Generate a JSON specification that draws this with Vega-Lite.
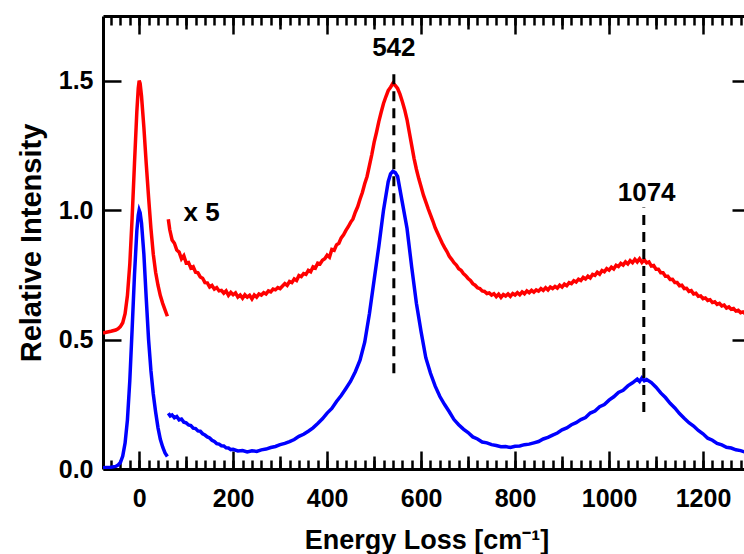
{
  "$schema": "https://vega.github.io/schema/vega-lite/v6.json",
  "width": 647,
  "height": 453,
  "autosize": {"type": "none"},
  "padding": {"left": 103, "top": 16, "right": 0, "bottom": 85},
  "background": "white",
  "config": {
    "view": {"stroke": null},
    "font": "Liberation Sans",
    "axis": {
      "grid": false,
      "domainColor": "black",
      "domainWidth": 3,
      "tickColor": "black",
      "tickWidth": 2.5,
      "labelFont": "Liberation Sans",
      "labelFontWeight": "bold",
      "labelFontSize": 25,
      "labelColor": "black",
      "titleFont": "Liberation Sans",
      "titleFontWeight": "bold",
      "titleFontSize": 27,
      "titleColor": "black",
      "labelFlush": false
    }
  },
  "resolve": {"axis": {"x": "independent", "y": "independent"}},
  "datasets": {
    "peaks": [
      {"x": 542, "y1": 0.37, "y2": 1.53},
      {"x": 1074, "y1": 0.22, "y2": 1.01}
    ],
    "notes": [
      {"x": 542, "y": 1.627, "t": "542"},
      {"x": 1080, "y": 1.068, "t": "1074"},
      {"x": 133, "y": 0.99, "t": "x 5"}
    ],
    "lines": [
      {"s": "b0", "x": -77, "y": 0.005}, {"s": "b0", "x": -70, "y": 0.006}, {"s": "b0", "x": -60, "y": 0.007}, {"s": "b0", "x": -50, "y": 0.01}, {"s": "b0", "x": -45, "y": 0.015}, {"s": "b0", "x": -40, "y": 0.025}, {"s": "b0", "x": -35, "y": 0.05}, {"s": "b0", "x": -30, "y": 0.1}, {"s": "b0", "x": -25, "y": 0.19}, {"s": "b0", "x": -20, "y": 0.34}, {"s": "b0", "x": -15, "y": 0.54}, {"s": "b0", "x": -10, "y": 0.75}, {"s": "b0", "x": -5, "y": 0.92}, {"s": "b0", "x": -2, "y": 0.98}, {"s": "b0", "x": 0, "y": 1.0}, {"s": "b0", "x": 2, "y": 0.99}, {"s": "b0", "x": 5, "y": 0.95}, {"s": "b0", "x": 10, "y": 0.83}, {"s": "b0", "x": 15, "y": 0.66}, {"s": "b0", "x": 20, "y": 0.5}, {"s": "b0", "x": 25, "y": 0.38}, {"s": "b0", "x": 30, "y": 0.29}, {"s": "b0", "x": 35, "y": 0.22}, {"s": "b0", "x": 40, "y": 0.16}, {"s": "b0", "x": 45, "y": 0.115}, {"s": "b0", "x": 50, "y": 0.085}, {"s": "b0", "x": 55, "y": 0.062}, {"s": "b0", "x": 60, "y": 0.048},
      {"s": "b1", "x": 62, "y": 0.215}, {"s": "b1", "x": 66, "y": 0.205}, {"s": "b1", "x": 70, "y": 0.209}, {"s": "b1", "x": 75, "y": 0.198}, {"s": "b1", "x": 80, "y": 0.203}, {"s": "b1", "x": 85, "y": 0.19}, {"s": "b1", "x": 90, "y": 0.193}, {"s": "b1", "x": 95, "y": 0.181}, {"s": "b1", "x": 100, "y": 0.178}, {"s": "b1", "x": 105, "y": 0.17}, {"s": "b1", "x": 110, "y": 0.168}, {"s": "b1", "x": 115, "y": 0.158}, {"s": "b1", "x": 120, "y": 0.156}, {"s": "b1", "x": 125, "y": 0.147}, {"s": "b1", "x": 130, "y": 0.146}, {"s": "b1", "x": 135, "y": 0.136}, {"s": "b1", "x": 140, "y": 0.131}, {"s": "b1", "x": 145, "y": 0.124}, {"s": "b1", "x": 150, "y": 0.12}, {"s": "b1", "x": 155, "y": 0.111}, {"s": "b1", "x": 160, "y": 0.106}, {"s": "b1", "x": 165, "y": 0.098}, {"s": "b1", "x": 170, "y": 0.096}, {"s": "b1", "x": 175, "y": 0.09}, {"s": "b1", "x": 180, "y": 0.089}, {"s": "b1", "x": 185, "y": 0.082}, {"s": "b1", "x": 190, "y": 0.081}, {"s": "b1", "x": 195, "y": 0.075}, {"s": "b1", "x": 200, "y": 0.076}, {"s": "b1", "x": 210, "y": 0.07}, {"s": "b1", "x": 220, "y": 0.071}, {"s": "b1", "x": 230, "y": 0.066}, {"s": "b1", "x": 240, "y": 0.07}, {"s": "b1", "x": 250, "y": 0.068}, {"s": "b1", "x": 260, "y": 0.074}, {"s": "b1", "x": 270, "y": 0.077}, {"s": "b1", "x": 280, "y": 0.083}, {"s": "b1", "x": 290, "y": 0.087}, {"s": "b1", "x": 300, "y": 0.094}, {"s": "b1", "x": 310, "y": 0.099}, {"s": "b1", "x": 320, "y": 0.106}, {"s": "b1", "x": 330, "y": 0.114}, {"s": "b1", "x": 340, "y": 0.126}, {"s": "b1", "x": 350, "y": 0.134}, {"s": "b1", "x": 360, "y": 0.146}, {"s": "b1", "x": 370, "y": 0.159}, {"s": "b1", "x": 380, "y": 0.176}, {"s": "b1", "x": 390, "y": 0.194}, {"s": "b1", "x": 400, "y": 0.216}, {"s": "b1", "x": 410, "y": 0.234}, {"s": "b1", "x": 420, "y": 0.261}, {"s": "b1", "x": 430, "y": 0.284}, {"s": "b1", "x": 440, "y": 0.311}, {"s": "b1", "x": 450, "y": 0.339}, {"s": "b1", "x": 460, "y": 0.376}, {"s": "b1", "x": 470, "y": 0.42}, {"s": "b1", "x": 480, "y": 0.49}, {"s": "b1", "x": 490, "y": 0.6}, {"s": "b1", "x": 500, "y": 0.73}, {"s": "b1", "x": 510, "y": 0.86}, {"s": "b1", "x": 520, "y": 1.0}, {"s": "b1", "x": 530, "y": 1.11}, {"s": "b1", "x": 535, "y": 1.14}, {"s": "b1", "x": 540, "y": 1.15}, {"s": "b1", "x": 545, "y": 1.145}, {"s": "b1", "x": 550, "y": 1.13}, {"s": "b1", "x": 560, "y": 1.03}, {"s": "b1", "x": 570, "y": 0.93}, {"s": "b1", "x": 580, "y": 0.78}, {"s": "b1", "x": 590, "y": 0.64}, {"s": "b1", "x": 600, "y": 0.53}, {"s": "b1", "x": 610, "y": 0.43}, {"s": "b1", "x": 620, "y": 0.37}, {"s": "b1", "x": 630, "y": 0.32}, {"s": "b1", "x": 640, "y": 0.28}, {"s": "b1", "x": 650, "y": 0.249}, {"s": "b1", "x": 660, "y": 0.221}, {"s": "b1", "x": 670, "y": 0.191}, {"s": "b1", "x": 680, "y": 0.171}, {"s": "b1", "x": 690, "y": 0.154}, {"s": "b1", "x": 700, "y": 0.141}, {"s": "b1", "x": 710, "y": 0.124}, {"s": "b1", "x": 720, "y": 0.116}, {"s": "b1", "x": 730, "y": 0.104}, {"s": "b1", "x": 740, "y": 0.101}, {"s": "b1", "x": 750, "y": 0.094}, {"s": "b1", "x": 760, "y": 0.091}, {"s": "b1", "x": 770, "y": 0.086}, {"s": "b1", "x": 780, "y": 0.087}, {"s": "b1", "x": 790, "y": 0.083}, {"s": "b1", "x": 800, "y": 0.088}, {"s": "b1", "x": 810, "y": 0.089}, {"s": "b1", "x": 820, "y": 0.094}, {"s": "b1", "x": 830, "y": 0.096}, {"s": "b1", "x": 840, "y": 0.101}, {"s": "b1", "x": 850, "y": 0.106}, {"s": "b1", "x": 860, "y": 0.116}, {"s": "b1", "x": 870, "y": 0.122}, {"s": "b1", "x": 880, "y": 0.131}, {"s": "b1", "x": 890, "y": 0.139}, {"s": "b1", "x": 900, "y": 0.151}, {"s": "b1", "x": 910, "y": 0.159}, {"s": "b1", "x": 920, "y": 0.171}, {"s": "b1", "x": 930, "y": 0.179}, {"s": "b1", "x": 940, "y": 0.191}, {"s": "b1", "x": 950, "y": 0.199}, {"s": "b1", "x": 960, "y": 0.216}, {"s": "b1", "x": 970, "y": 0.224}, {"s": "b1", "x": 980, "y": 0.241}, {"s": "b1", "x": 990, "y": 0.249}, {"s": "b1", "x": 1000, "y": 0.266}, {"s": "b1", "x": 1010, "y": 0.279}, {"s": "b1", "x": 1020, "y": 0.296}, {"s": "b1", "x": 1030, "y": 0.304}, {"s": "b1", "x": 1040, "y": 0.321}, {"s": "b1", "x": 1050, "y": 0.333}, {"s": "b1", "x": 1060, "y": 0.347}, {"s": "b1", "x": 1065, "y": 0.338}, {"s": "b1", "x": 1070, "y": 0.352}, {"s": "b1", "x": 1075, "y": 0.341}, {"s": "b1", "x": 1080, "y": 0.346}, {"s": "b1", "x": 1090, "y": 0.334}, {"s": "b1", "x": 1100, "y": 0.316}, {"s": "b1", "x": 1110, "y": 0.294}, {"s": "b1", "x": 1120, "y": 0.276}, {"s": "b1", "x": 1130, "y": 0.254}, {"s": "b1", "x": 1140, "y": 0.236}, {"s": "b1", "x": 1150, "y": 0.214}, {"s": "b1", "x": 1160, "y": 0.196}, {"s": "b1", "x": 1170, "y": 0.179}, {"s": "b1", "x": 1180, "y": 0.166}, {"s": "b1", "x": 1190, "y": 0.149}, {"s": "b1", "x": 1200, "y": 0.136}, {"s": "b1", "x": 1210, "y": 0.119}, {"s": "b1", "x": 1220, "y": 0.111}, {"s": "b1", "x": 1230, "y": 0.099}, {"s": "b1", "x": 1240, "y": 0.093}, {"s": "b1", "x": 1250, "y": 0.084}, {"s": "b1", "x": 1260, "y": 0.081}, {"s": "b1", "x": 1270, "y": 0.074}, {"s": "b1", "x": 1280, "y": 0.071}, {"s": "b1", "x": 1290, "y": 0.065}, {"s": "b1", "x": 1300, "y": 0.062},
      {"s": "r0", "x": -77, "y": 0.525}, {"s": "r0", "x": -70, "y": 0.528}, {"s": "r0", "x": -60, "y": 0.532}, {"s": "r0", "x": -50, "y": 0.537}, {"s": "r0", "x": -45, "y": 0.542}, {"s": "r0", "x": -40, "y": 0.55}, {"s": "r0", "x": -35, "y": 0.565}, {"s": "r0", "x": -30, "y": 0.6}, {"s": "r0", "x": -25, "y": 0.67}, {"s": "r0", "x": -20, "y": 0.79}, {"s": "r0", "x": -15, "y": 0.97}, {"s": "r0", "x": -10, "y": 1.18}, {"s": "r0", "x": -5, "y": 1.38}, {"s": "r0", "x": -2, "y": 1.47}, {"s": "r0", "x": 0, "y": 1.5}, {"s": "r0", "x": 2, "y": 1.49}, {"s": "r0", "x": 5, "y": 1.44}, {"s": "r0", "x": 10, "y": 1.32}, {"s": "r0", "x": 15, "y": 1.18}, {"s": "r0", "x": 20, "y": 1.05}, {"s": "r0", "x": 25, "y": 0.93}, {"s": "r0", "x": 30, "y": 0.83}, {"s": "r0", "x": 35, "y": 0.76}, {"s": "r0", "x": 40, "y": 0.71}, {"s": "r0", "x": 45, "y": 0.67}, {"s": "r0", "x": 50, "y": 0.64}, {"s": "r0", "x": 55, "y": 0.615}, {"s": "r0", "x": 60, "y": 0.59},
      {"s": "r1", "x": 62, "y": 0.965}, {"s": "r1", "x": 65, "y": 0.925}, {"s": "r1", "x": 70, "y": 0.885}, {"s": "r1", "x": 75, "y": 0.872}, {"s": "r1", "x": 80, "y": 0.846}, {"s": "r1", "x": 85, "y": 0.838}, {"s": "r1", "x": 90, "y": 0.812}, {"s": "r1", "x": 95, "y": 0.824}, {"s": "r1", "x": 100, "y": 0.796}, {"s": "r1", "x": 105, "y": 0.798}, {"s": "r1", "x": 110, "y": 0.776}, {"s": "r1", "x": 115, "y": 0.781}, {"s": "r1", "x": 120, "y": 0.76}, {"s": "r1", "x": 125, "y": 0.758}, {"s": "r1", "x": 130, "y": 0.742}, {"s": "r1", "x": 135, "y": 0.737}, {"s": "r1", "x": 140, "y": 0.72}, {"s": "r1", "x": 145, "y": 0.719}, {"s": "r1", "x": 150, "y": 0.703}, {"s": "r1", "x": 155, "y": 0.709}, {"s": "r1", "x": 160, "y": 0.695}, {"s": "r1", "x": 165, "y": 0.701}, {"s": "r1", "x": 170, "y": 0.688}, {"s": "r1", "x": 175, "y": 0.69}, {"s": "r1", "x": 180, "y": 0.679}, {"s": "r1", "x": 185, "y": 0.688}, {"s": "r1", "x": 190, "y": 0.671}, {"s": "r1", "x": 195, "y": 0.682}, {"s": "r1", "x": 200, "y": 0.673}, {"s": "r1", "x": 205, "y": 0.68}, {"s": "r1", "x": 210, "y": 0.664}, {"s": "r1", "x": 215, "y": 0.672}, {"s": "r1", "x": 220, "y": 0.66}, {"s": "r1", "x": 225, "y": 0.673}, {"s": "r1", "x": 230, "y": 0.664}, {"s": "r1", "x": 235, "y": 0.671}, {"s": "r1", "x": 240, "y": 0.657}, {"s": "r1", "x": 245, "y": 0.672}, {"s": "r1", "x": 250, "y": 0.664}, {"s": "r1", "x": 255, "y": 0.676}, {"s": "r1", "x": 260, "y": 0.672}, {"s": "r1", "x": 265, "y": 0.681}, {"s": "r1", "x": 270, "y": 0.676}, {"s": "r1", "x": 275, "y": 0.688}, {"s": "r1", "x": 280, "y": 0.684}, {"s": "r1", "x": 285, "y": 0.695}, {"s": "r1", "x": 290, "y": 0.692}, {"s": "r1", "x": 295, "y": 0.701}, {"s": "r1", "x": 300, "y": 0.697}, {"s": "r1", "x": 310, "y": 0.716}, {"s": "r1", "x": 315, "y": 0.709}, {"s": "r1", "x": 320, "y": 0.724}, {"s": "r1", "x": 325, "y": 0.72}, {"s": "r1", "x": 330, "y": 0.734}, {"s": "r1", "x": 335, "y": 0.728}, {"s": "r1", "x": 340, "y": 0.747}, {"s": "r1", "x": 345, "y": 0.743}, {"s": "r1", "x": 350, "y": 0.755}, {"s": "r1", "x": 355, "y": 0.752}, {"s": "r1", "x": 360, "y": 0.767}, {"s": "r1", "x": 365, "y": 0.762}, {"s": "r1", "x": 370, "y": 0.781}, {"s": "r1", "x": 375, "y": 0.776}, {"s": "r1", "x": 380, "y": 0.795}, {"s": "r1", "x": 385, "y": 0.792}, {"s": "r1", "x": 390, "y": 0.806}, {"s": "r1", "x": 395, "y": 0.812}, {"s": "r1", "x": 400, "y": 0.826}, {"s": "r1", "x": 405, "y": 0.818}, {"s": "r1", "x": 410, "y": 0.848}, {"s": "r1", "x": 415, "y": 0.845}, {"s": "r1", "x": 420, "y": 0.866}, {"s": "r1", "x": 425, "y": 0.872}, {"s": "r1", "x": 430, "y": 0.893}, {"s": "r1", "x": 435, "y": 0.905}, {"s": "r1", "x": 440, "y": 0.922}, {"s": "r1", "x": 445, "y": 0.936}, {"s": "r1", "x": 450, "y": 0.953}, {"s": "r1", "x": 455, "y": 0.966}, {"s": "r1", "x": 460, "y": 0.992}, {"s": "r1", "x": 465, "y": 1.013}, {"s": "r1", "x": 470, "y": 1.042}, {"s": "r1", "x": 475, "y": 1.068}, {"s": "r1", "x": 480, "y": 1.102}, {"s": "r1", "x": 485, "y": 1.13}, {"s": "r1", "x": 490, "y": 1.172}, {"s": "r1", "x": 495, "y": 1.214}, {"s": "r1", "x": 500, "y": 1.262}, {"s": "r1", "x": 505, "y": 1.3}, {"s": "r1", "x": 510, "y": 1.342}, {"s": "r1", "x": 515, "y": 1.378}, {"s": "r1", "x": 520, "y": 1.412}, {"s": "r1", "x": 525, "y": 1.438}, {"s": "r1", "x": 530, "y": 1.462}, {"s": "r1", "x": 535, "y": 1.475}, {"s": "r1", "x": 540, "y": 1.49}, {"s": "r1", "x": 545, "y": 1.482}, {"s": "r1", "x": 550, "y": 1.47}, {"s": "r1", "x": 555, "y": 1.448}, {"s": "r1", "x": 560, "y": 1.42}, {"s": "r1", "x": 565, "y": 1.388}, {"s": "r1", "x": 570, "y": 1.35}, {"s": "r1", "x": 575, "y": 1.3}, {"s": "r1", "x": 580, "y": 1.25}, {"s": "r1", "x": 585, "y": 1.2}, {"s": "r1", "x": 590, "y": 1.158}, {"s": "r1", "x": 595, "y": 1.122}, {"s": "r1", "x": 600, "y": 1.09}, {"s": "r1", "x": 605, "y": 1.058}, {"s": "r1", "x": 610, "y": 1.032}, {"s": "r1", "x": 615, "y": 1.006}, {"s": "r1", "x": 620, "y": 0.982}, {"s": "r1", "x": 625, "y": 0.958}, {"s": "r1", "x": 630, "y": 0.932}, {"s": "r1", "x": 635, "y": 0.912}, {"s": "r1", "x": 640, "y": 0.892}, {"s": "r1", "x": 645, "y": 0.872}, {"s": "r1", "x": 650, "y": 0.855}, {"s": "r1", "x": 655, "y": 0.84}, {"s": "r1", "x": 660, "y": 0.822}, {"s": "r1", "x": 665, "y": 0.81}, {"s": "r1", "x": 670, "y": 0.797}, {"s": "r1", "x": 675, "y": 0.788}, {"s": "r1", "x": 680, "y": 0.774}, {"s": "r1", "x": 685, "y": 0.768}, {"s": "r1", "x": 690, "y": 0.755}, {"s": "r1", "x": 695, "y": 0.747}, {"s": "r1", "x": 700, "y": 0.736}, {"s": "r1", "x": 705, "y": 0.728}, {"s": "r1", "x": 710, "y": 0.716}, {"s": "r1", "x": 715, "y": 0.71}, {"s": "r1", "x": 720, "y": 0.7}, {"s": "r1", "x": 725, "y": 0.697}, {"s": "r1", "x": 730, "y": 0.688}, {"s": "r1", "x": 735, "y": 0.686}, {"s": "r1", "x": 740, "y": 0.678}, {"s": "r1", "x": 745, "y": 0.68}, {"s": "r1", "x": 750, "y": 0.672}, {"s": "r1", "x": 755, "y": 0.677}, {"s": "r1", "x": 760, "y": 0.666}, {"s": "r1", "x": 765, "y": 0.675}, {"s": "r1", "x": 770, "y": 0.663}, {"s": "r1", "x": 775, "y": 0.674}, {"s": "r1", "x": 780, "y": 0.668}, {"s": "r1", "x": 785, "y": 0.676}, {"s": "r1", "x": 790, "y": 0.667}, {"s": "r1", "x": 795, "y": 0.678}, {"s": "r1", "x": 800, "y": 0.672}, {"s": "r1", "x": 805, "y": 0.681}, {"s": "r1", "x": 810, "y": 0.673}, {"s": "r1", "x": 815, "y": 0.684}, {"s": "r1", "x": 820, "y": 0.677}, {"s": "r1", "x": 825, "y": 0.688}, {"s": "r1", "x": 830, "y": 0.681}, {"s": "r1", "x": 835, "y": 0.69}, {"s": "r1", "x": 840, "y": 0.683}, {"s": "r1", "x": 845, "y": 0.692}, {"s": "r1", "x": 850, "y": 0.687}, {"s": "r1", "x": 855, "y": 0.697}, {"s": "r1", "x": 860, "y": 0.69}, {"s": "r1", "x": 865, "y": 0.7}, {"s": "r1", "x": 870, "y": 0.692}, {"s": "r1", "x": 875, "y": 0.703}, {"s": "r1", "x": 880, "y": 0.697}, {"s": "r1", "x": 885, "y": 0.705}, {"s": "r1", "x": 890, "y": 0.699}, {"s": "r1", "x": 895, "y": 0.71}, {"s": "r1", "x": 900, "y": 0.703}, {"s": "r1", "x": 905, "y": 0.714}, {"s": "r1", "x": 910, "y": 0.708}, {"s": "r1", "x": 915, "y": 0.72}, {"s": "r1", "x": 920, "y": 0.716}, {"s": "r1", "x": 925, "y": 0.727}, {"s": "r1", "x": 930, "y": 0.722}, {"s": "r1", "x": 935, "y": 0.733}, {"s": "r1", "x": 940, "y": 0.728}, {"s": "r1", "x": 945, "y": 0.74}, {"s": "r1", "x": 950, "y": 0.734}, {"s": "r1", "x": 955, "y": 0.745}, {"s": "r1", "x": 960, "y": 0.738}, {"s": "r1", "x": 965, "y": 0.752}, {"s": "r1", "x": 970, "y": 0.748}, {"s": "r1", "x": 975, "y": 0.76}, {"s": "r1", "x": 980, "y": 0.753}, {"s": "r1", "x": 985, "y": 0.767}, {"s": "r1", "x": 990, "y": 0.762}, {"s": "r1", "x": 995, "y": 0.774}, {"s": "r1", "x": 1000, "y": 0.768}, {"s": "r1", "x": 1005, "y": 0.78}, {"s": "r1", "x": 1010, "y": 0.773}, {"s": "r1", "x": 1015, "y": 0.787}, {"s": "r1", "x": 1020, "y": 0.782}, {"s": "r1", "x": 1025, "y": 0.794}, {"s": "r1", "x": 1030, "y": 0.788}, {"s": "r1", "x": 1035, "y": 0.8}, {"s": "r1", "x": 1040, "y": 0.792}, {"s": "r1", "x": 1045, "y": 0.805}, {"s": "r1", "x": 1050, "y": 0.797}, {"s": "r1", "x": 1055, "y": 0.81}, {"s": "r1", "x": 1060, "y": 0.8}, {"s": "r1", "x": 1065, "y": 0.812}, {"s": "r1", "x": 1070, "y": 0.798}, {"s": "r1", "x": 1075, "y": 0.808}, {"s": "r1", "x": 1080, "y": 0.796}, {"s": "r1", "x": 1085, "y": 0.8}, {"s": "r1", "x": 1090, "y": 0.784}, {"s": "r1", "x": 1095, "y": 0.786}, {"s": "r1", "x": 1100, "y": 0.772}, {"s": "r1", "x": 1105, "y": 0.772}, {"s": "r1", "x": 1110, "y": 0.758}, {"s": "r1", "x": 1115, "y": 0.758}, {"s": "r1", "x": 1120, "y": 0.745}, {"s": "r1", "x": 1125, "y": 0.745}, {"s": "r1", "x": 1130, "y": 0.732}, {"s": "r1", "x": 1135, "y": 0.733}, {"s": "r1", "x": 1140, "y": 0.72}, {"s": "r1", "x": 1145, "y": 0.72}, {"s": "r1", "x": 1150, "y": 0.708}, {"s": "r1", "x": 1155, "y": 0.71}, {"s": "r1", "x": 1160, "y": 0.697}, {"s": "r1", "x": 1165, "y": 0.698}, {"s": "r1", "x": 1170, "y": 0.686}, {"s": "r1", "x": 1175, "y": 0.689}, {"s": "r1", "x": 1180, "y": 0.676}, {"s": "r1", "x": 1185, "y": 0.679}, {"s": "r1", "x": 1190, "y": 0.667}, {"s": "r1", "x": 1195, "y": 0.669}, {"s": "r1", "x": 1200, "y": 0.658}, {"s": "r1", "x": 1205, "y": 0.661}, {"s": "r1", "x": 1210, "y": 0.651}, {"s": "r1", "x": 1215, "y": 0.654}, {"s": "r1", "x": 1220, "y": 0.643}, {"s": "r1", "x": 1225, "y": 0.646}, {"s": "r1", "x": 1230, "y": 0.636}, {"s": "r1", "x": 1235, "y": 0.64}, {"s": "r1", "x": 1240, "y": 0.63}, {"s": "r1", "x": 1245, "y": 0.633}, {"s": "r1", "x": 1250, "y": 0.622}, {"s": "r1", "x": 1255, "y": 0.626}, {"s": "r1", "x": 1260, "y": 0.617}, {"s": "r1", "x": 1265, "y": 0.62}, {"s": "r1", "x": 1270, "y": 0.61}, {"s": "r1", "x": 1275, "y": 0.613}, {"s": "r1", "x": 1280, "y": 0.604}, {"s": "r1", "x": 1285, "y": 0.607}, {"s": "r1", "x": 1290, "y": 0.6}, {"s": "r1", "x": 1300, "y": 0.596}
    ]
  },
  "layer": [
    {
      "data": {"name": "lines"},
      "mark": {"type": "line", "strokeWidth": 3.5, "clip": true},
      "encoding": {
        "x": {"field": "x", "type": "quantitative",
          "scale": {"domain": [-77, 1300], "nice": false, "zero": false},
          "axis": {"orient": "bottom", "values": [0, 200, 400, 600, 800, 1000, 1200], "format": "d", "ticks": false, "labelPadding": 17, "domain": true, "title": "Energy Loss [cm⁻¹]", "titlePadding": 16}},
        "y": {"field": "y", "type": "quantitative",
          "scale": {"domain": [0, 1.75], "nice": false, "zero": false},
          "axis": {"orient": "left", "values": [0, 0.5, 1, 1.5], "format": ".1f", "ticks": false, "labelPadding": 10, "domain": true, "title": "Relative Intensity", "titleFontSize": 29, "titlePadding": 12}},
        "color": {"field": "s", "type": "nominal", "legend": null,
          "scale": {"domain": ["b0", "b1", "r0", "r1"], "range": ["#0000ff", "#0000ff", "#ff0000", "#ff0000"]}}
      }
    },
    {
      "data": {"name": "peaks"},
      "mark": {"type": "rule", "strokeWidth": 3, "strokeDash": [10, 7], "color": "black"},
      "encoding": {
        "x": {"field": "x", "type": "quantitative",
          "scale": {"domain": [-77, 1300], "nice": false, "zero": false},
          "axis": {"orient": "bottom", "values": [0, 200, 400, 600, 800, 1000, 1200], "labels": false, "tickSize": -18, "domain": false, "title": null}},
        "y": {"field": "y1", "type": "quantitative",
          "scale": {"domain": [0, 1.75], "nice": false, "zero": false},
          "axis": {"orient": "left", "values": [0, 0.5, 1, 1.5], "labels": false, "tickSize": -18, "domain": false, "title": null}},
        "y2": {"field": "y2"}
      }
    },
    {
      "data": {"name": "notes"},
      "mark": {"type": "text", "fontSize": 26, "fontWeight": "bold", "font": "Liberation Sans", "align": "center", "baseline": "middle", "color": "black"},
      "encoding": {
        "x": {"field": "x", "type": "quantitative",
          "scale": {"domain": [-77, 1300], "nice": false, "zero": false},
          "axis": {"orient": "top", "values": [0, 200, 400, 600, 800, 1000, 1200], "labels": false, "tickSize": -18, "domain": true, "title": null}},
        "y": {"field": "y", "type": "quantitative",
          "scale": {"domain": [0, 1.75], "nice": false, "zero": false},
          "axis": {"orient": "right", "values": [0, 0.5, 1, 1.5], "labels": false, "tickSize": -18, "domain": true, "title": null}},
        "text": {"field": "t"}
      }
    },
    {
      "data": {"name": "notes"},
      "mark": {"type": "point", "opacity": 0},
      "encoding": {
        "x": {"field": "x", "type": "quantitative",
          "scale": {"domain": [-77, 1300], "nice": false, "zero": false},
          "axis": {"orient": "bottom", "values": [100, 300, 500, 700, 900, 1100, 1300], "labels": false, "tickSize": -13, "domain": false, "title": null}},
        "y": {"field": "y", "type": "quantitative", "scale": {"domain": [0, 1.75], "nice": false, "zero": false}, "axis": null}
      }
    },
    {
      "data": {"name": "notes"},
      "mark": {"type": "point", "opacity": 0},
      "encoding": {
        "x": {"field": "x", "type": "quantitative",
          "scale": {"domain": [-77, 1300], "nice": false, "zero": false},
          "axis": {"orient": "top", "values": [100, 300, 500, 700, 900, 1100, 1300], "labels": false, "tickSize": -13, "domain": false, "title": null}},
        "y": {"field": "y", "type": "quantitative", "scale": {"domain": [0, 1.75], "nice": false, "zero": false}, "axis": null}
      }
    },
    {
      "data": {"name": "notes"},
      "mark": {"type": "point", "opacity": 0},
      "encoding": {
        "x": {"field": "x", "type": "quantitative",
          "scale": {"domain": [-77, 1300], "nice": false, "zero": false},
          "axis": {"orient": "bottom", "values": [-60, -40, -20, 0, 20, 40, 60, 80, 100, 120, 140, 160, 180, 200, 220, 240, 260, 280, 300, 320, 340, 360, 380, 400, 420, 440, 460, 480, 500, 520, 540, 560, 580, 600, 620, 640, 660, 680, 700, 720, 740, 760, 780, 800, 820, 840, 860, 880, 900, 920, 940, 960, 980, 1000, 1020, 1040, 1060, 1080, 1100, 1120, 1140, 1160, 1180, 1200, 1220, 1240, 1260, 1280, 1300], "labels": false, "tickSize": -9, "domain": false, "title": null}},
        "y": {"field": "y", "type": "quantitative", "scale": {"domain": [0, 1.75], "nice": false, "zero": false}, "axis": null}
      }
    },
    {
      "data": {"name": "notes"},
      "mark": {"type": "point", "opacity": 0},
      "encoding": {
        "x": {"field": "x", "type": "quantitative",
          "scale": {"domain": [-77, 1300], "nice": false, "zero": false},
          "axis": {"orient": "top", "values": [-60, -40, -20, 0, 20, 40, 60, 80, 100, 120, 140, 160, 180, 200, 220, 240, 260, 280, 300, 320, 340, 360, 380, 400, 420, 440, 460, 480, 500, 520, 540, 560, 580, 600, 620, 640, 660, 680, 700, 720, 740, 760, 780, 800, 820, 840, 860, 880, 900, 920, 940, 960, 980, 1000, 1020, 1040, 1060, 1080, 1100, 1120, 1140, 1160, 1180, 1200, 1220, 1240, 1260, 1280, 1300], "labels": false, "tickSize": -9, "domain": false, "title": null}},
        "y": {"field": "y", "type": "quantitative", "scale": {"domain": [0, 1.75], "nice": false, "zero": false}, "axis": null}
      }
    }
  ]
}
